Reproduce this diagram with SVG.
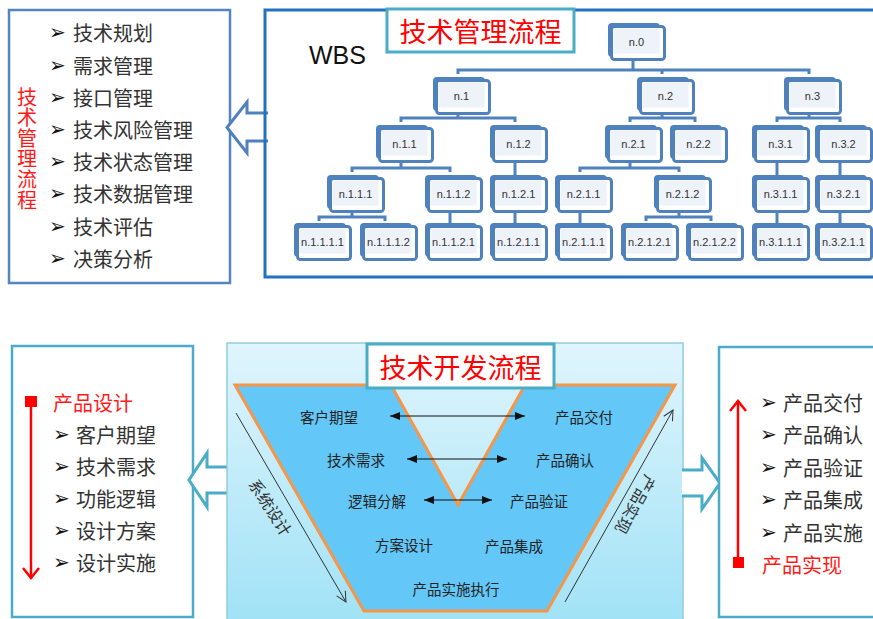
<svg xmlns="http://www.w3.org/2000/svg" width="873" height="619" viewBox="0 0 873 619">
<style>
.li{font-family:"Noto Sans CJK SC","Noto Sans",sans-serif;font-size:20px;fill:#333;dominant-baseline:central}
.bu{font-family:"DejaVu Sans",sans-serif;font-size:20px;fill:#111;dominant-baseline:central}
.red{font-family:"Noto Sans CJK SC","Noto Sans",sans-serif;font-size:20px;fill:#FF1A1A;dominant-baseline:central}
.ttl{font-family:"Noto Sans CJK SC","Noto Sans",sans-serif;font-size:27px;fill:#FF0000;text-anchor:middle;dominant-baseline:central}
.nt{font-family:"Liberation Sans",Arial,sans-serif;font-size:11px;fill:#333;text-anchor:middle;dominant-baseline:central}
.vt{font-family:"Noto Sans CJK SC","Noto Sans",sans-serif;font-size:14.5px;fill:#222;text-anchor:middle;dominant-baseline:central}
.dg{font-family:"Noto Sans CJK SC","Noto Sans",sans-serif;font-size:16px;fill:#333;text-anchor:middle;dominant-baseline:central}
.cn{fill:none;stroke:#4F81BD;stroke-width:3}
.hollowB{fill:#fff;stroke:#4F81BD;stroke-width:3;stroke-linejoin:miter}
.hollowT{fill:#fff;stroke:#4BACC6;stroke-width:3;stroke-linejoin:miter}
.tealbox{fill:#fff;stroke:#4BACC6;stroke-width:2.5}
.dbl{stroke:#111;stroke-width:1.2;marker-start:url(#tri);marker-end:url(#tri)}
.diag{stroke:#333;stroke-width:1;marker-end:url(#openA)}
</style>
<defs>
<linearGradient id="panelG" x1="0" y1="0" x2="0" y2="1">
<stop offset="0" stop-color="#E0F5FD"/>
<stop offset="1" stop-color="#A0E2F6"/>
</linearGradient>
<marker id="tri" viewBox="0 0 10 8" refX="10" refY="4" markerWidth="10" markerHeight="8" markerUnits="userSpaceOnUse" orient="auto-start-reverse">
<path d="M0,0 L10,4 L0,8 Z" fill="#111"/>
</marker>
<marker id="openA" viewBox="0 0 12 12" refX="11" refY="6" markerWidth="12" markerHeight="12" markerUnits="userSpaceOnUse" orient="auto">
<path d="M1,1 L11,6 L1,11" fill="none" stroke="#333" stroke-width="1"/>
</marker>
<symbol id="nd" overflow="visible">
<rect x="0" y="0" width="52" height="34" rx="4" fill="#4F81BD"/>
<rect x="3.5" y="3.5" width="53" height="33" rx="3" fill="#fff" stroke="#4F81BD" stroke-width="3"/>
<rect x="5.5" y="5.5" width="46" height="25" fill="#EEF2F9"/>
</symbol>
</defs>
<rect width="873" height="619" fill="#fff"/>

<!-- Top-left list box -->
<g id="mgmt-list">
<rect x="9" y="10" width="221" height="273" fill="#fff" stroke="#5585C0" stroke-width="2.5"/>
<text x="27" y="87" writing-mode="vertical-rl" font-family="Noto Sans CJK SC,Noto Sans,sans-serif" font-size="20" fill="#FF1A1A" letter-spacing="0.6">技术管理流程</text>
<text class="bu" x="49" y="32">➢</text><text class="li" x="73" y="32">技术规划</text>
<text class="bu" x="49" y="65">➢</text><text class="li" x="73" y="65">需求管理</text>
<text class="bu" x="49" y="97">➢</text><text class="li" x="73" y="97">接口管理</text>
<text class="bu" x="49" y="129">➢</text><text class="li" x="73" y="129">技术风险管理</text>
<text class="bu" x="49" y="161">➢</text><text class="li" x="73" y="161">技术状态管理</text>
<text class="bu" x="49" y="193">➢</text><text class="li" x="73" y="193">技术数据管理</text>
<text class="bu" x="49" y="226">➢</text><text class="li" x="73" y="226">技术评估</text>
<text class="bu" x="49" y="258">➢</text><text class="li" x="73" y="258">决策分析</text>
</g>

<g id="arrow-top">
<path class="hollowB" d="M268,113 H247 V102 L227,127.5 L247,153 V141 H268"/>
</g>

<!-- WBS panel -->
<g id="wbs-panel">
<rect x="265" y="10" width="620" height="267" fill="none" stroke="#2372C0" stroke-width="3"/>
<text x="309" y="55" font-family="Liberation Sans,Arial,sans-serif" font-size="25" fill="#111" dominant-baseline="central">WBS</text>
</g>
<g id="title-mgmt">
<rect x="387" y="9" width="187" height="43" fill="#fff" stroke="#4BACC6" stroke-width="3"/>
<text class="ttl" x="480.5" y="30.5">技术管理流程</text>
</g>

<g id="n0"><use href="#nd" x="608" y="23"/><text class="nt" x="636.5" y="41.5">n.0</text></g>
<g id="n1"><use href="#nd" x="433" y="77"/><text class="nt" x="461.5" y="95.5">n.1</text></g>
<g id="n2"><use href="#nd" x="637" y="77"/><text class="nt" x="665.5" y="95.5">n.2</text></g>
<g id="n3"><use href="#nd" x="784" y="77"/><text class="nt" x="812.5" y="95.5">n.3</text></g>
<g id="n11"><use href="#nd" x="376" y="125"/><text class="nt" x="404.5" y="143.5">n.1.1</text></g>
<g id="n12"><use href="#nd" x="490" y="125"/><text class="nt" x="518.5" y="143.5">n.1.2</text></g>
<g id="n21"><use href="#nd" x="605" y="125"/><text class="nt" x="633.5" y="143.5">n.2.1</text></g>
<g id="n22"><use href="#nd" x="670" y="125"/><text class="nt" x="698.5" y="143.5">n.2.2</text></g>
<g id="n31"><use href="#nd" x="752" y="125"/><text class="nt" x="780.5" y="143.5">n.3.1</text></g>
<g id="n32"><use href="#nd" x="815" y="125"/><text class="nt" x="843.5" y="143.5">n.3.2</text></g>
<g id="n111"><use href="#nd" x="327" y="175"/><text class="nt" x="355.5" y="193.5">n.1.1.1</text></g>
<g id="n112"><use href="#nd" x="425" y="175"/><text class="nt" x="453.5" y="193.5">n.1.1.2</text></g>
<g id="n121"><use href="#nd" x="490" y="175"/><text class="nt" x="518.5" y="193.5">n.1.2.1</text></g>
<g id="n211"><use href="#nd" x="555" y="175"/><text class="nt" x="583.5" y="193.5">n.2.1.1</text></g>
<g id="n212"><use href="#nd" x="654" y="175"/><text class="nt" x="682.5" y="193.5">n.2.1.2</text></g>
<g id="n311"><use href="#nd" x="752" y="175"/><text class="nt" x="780.5" y="193.5">n.3.1.1</text></g>
<g id="n321"><use href="#nd" x="815" y="175"/><text class="nt" x="843.5" y="193.5">n.3.2.1</text></g>
<g id="n1111"><use href="#nd" x="294" y="223"/><text class="nt" x="322.5" y="241.5">n.1.1.1.1</text></g>
<g id="n1112"><use href="#nd" x="360" y="223"/><text class="nt" x="388.5" y="241.5">n.1.1.1.2</text></g>
<g id="n1121"><use href="#nd" x="425" y="223"/><text class="nt" x="453.5" y="241.5">n.1.1.2.1</text></g>
<g id="n1211"><use href="#nd" x="490" y="223"/><text class="nt" x="518.5" y="241.5">n.1.2.1.1</text></g>
<g id="n2111"><use href="#nd" x="555" y="223"/><text class="nt" x="583.5" y="241.5">n.2.1.1.1</text></g>
<g id="n2121"><use href="#nd" x="621" y="223"/><text class="nt" x="649.5" y="241.5">n.2.1.2.1</text></g>
<g id="n2122"><use href="#nd" x="686" y="223"/><text class="nt" x="714.5" y="241.5">n.2.1.2.2</text></g>
<g id="n3111"><use href="#nd" x="752" y="223"/><text class="nt" x="780.5" y="241.5">n.3.1.1.1</text></g>
<g id="n3211"><use href="#nd" x="815" y="223"/><text class="nt" x="843.5" y="241.5">n.3.2.1.1</text></g>

<!-- Bottom-left box -->
<g id="design-list">
<rect class="tealbox" x="12" y="346" width="181" height="271"/>
<rect x="25" y="396" width="12" height="11" fill="#FF0000"/>
<line x1="31" y1="407" x2="31" y2="578" stroke="#FF0000" stroke-width="2.5"/>
<polyline points="23,568 31,578 39,568" fill="none" stroke="#FF0000" stroke-width="2.5"/>
<text class="red" x="53" y="402">产品设计</text>
<text class="bu" x="53" y="434">➢</text><text class="li" x="76" y="434">客户期望</text>
<text class="bu" x="53" y="466">➢</text><text class="li" x="76" y="466">技术需求</text>
<text class="bu" x="53" y="498">➢</text><text class="li" x="76" y="498">功能逻辑</text>
<text class="bu" x="53" y="530">➢</text><text class="li" x="76" y="530">设计方案</text>
<text class="bu" x="53" y="562">➢</text><text class="li" x="76" y="562">设计实施</text>
</g>

<g id="arrow-left">
<path class="hollowT" d="M229,467 H207 V453 L189,480 L207,507 V493 H229"/>
</g>

<!-- Middle panel -->
<g id="dev-panel">
<rect x="227" y="343" width="456" height="282" fill="url(#panelG)" stroke="#93CDDD" stroke-width="1.5"/>
<polygon points="235,385 391,385 458,505 525,385 675,385 547,611 364,611" fill="#63C7F8" stroke="#F79646" stroke-width="3" stroke-linejoin="miter"/>
</g>

<g id="arrow-right">
<path class="hollowT" d="M682,470 H702 V458 L720,483 L702,509 V496 H682"/>
</g>

<g id="title-dev">
<rect x="367" y="344" width="187" height="44" fill="#fff" stroke="#4BACC6" stroke-width="3"/>
<text class="ttl" x="460.5" y="366">技术开发流程</text>
</g>

<g id="connectors">
<path class="cn" d="M633,61 V70 M458,74 V70 H809 V74 M662,70 V74"/>
<path class="cn" d="M458,115 V118 M401,122 V118 H515 V122"/>
<path class="cn" d="M662,115 V118 M630,122 V118 H695 V122"/>
<path class="cn" d="M809,115 V118 M777,122 V118 H840 V122"/>
<path class="cn" d="M401,163 V168 M352,172 V168 H450 V172"/>
<path class="cn" d="M515,163 V175"/>
<path class="cn" d="M630,163 V168 M580,172 V168 H679 V172"/>
<path class="cn" d="M777,163 V175 M840,163 V175"/>
<path class="cn" d="M352,213 V217 M319,221 V217 H385 V221"/>
<path class="cn" d="M450,213 V223 M515,213 V223 M580,213 V223"/>
<path class="cn" d="M679,213 V217 M646,221 V217 H711 V221"/>
<path class="cn" d="M777,213 V223 M840,213 V223"/>
<line class="dbl" x1="390" y1="416" x2="525" y2="416"/>
<line class="dbl" x1="407" y1="459" x2="507" y2="459"/>
<line class="dbl" x1="424" y1="500" x2="492" y2="500"/>
</g>

<g id="v-labels">
<text class="vt" x="329" y="416">客户期望</text>
<text class="vt" x="356" y="459">技术需求</text>
<text class="vt" x="377" y="500">逻辑分解</text>
<text class="vt" x="404" y="544">方案设计</text>
<text class="vt" x="456" y="588">产品实施执行</text>
<text class="vt" x="584" y="416">产品交付</text>
<text class="vt" x="565" y="459">产品确认</text>
<text class="vt" x="539" y="500">产品验证</text>
<text class="vt" x="514" y="545">产品集成</text>
</g>

<g id="diag-left">
<line class="diag" x1="236" y1="413" x2="346" y2="602"/>
<text class="dg" transform="translate(271,507) rotate(57)">系统设计</text>
</g>
<g id="diag-right">
<line class="diag" x1="565" y1="602" x2="673" y2="410"/>
<text class="dg" transform="translate(636,505) rotate(119)">产品实现</text>
</g>

<!-- Bottom-right box -->
<g id="product-list">
<rect class="tealbox" x="719" y="347" width="170" height="270"/>
<line x1="738" y1="401" x2="738" y2="558" stroke="#FF0000" stroke-width="2.5"/>
<polyline points="730,411 738,401 746,411" fill="none" stroke="#FF0000" stroke-width="2.5"/>
<rect x="733" y="557" width="11" height="11" fill="#FF0000"/>
<text class="bu" x="760" y="402">➢</text><text class="li" x="783" y="402">产品交付</text>
<text class="bu" x="760" y="434">➢</text><text class="li" x="783" y="434">产品确认</text>
<text class="bu" x="760" y="467">➢</text><text class="li" x="783" y="467">产品验证</text>
<text class="bu" x="760" y="499">➢</text><text class="li" x="783" y="499">产品集成</text>
<text class="bu" x="760" y="532">➢</text><text class="li" x="783" y="532">产品实施</text>
<text class="red" x="762" y="564">产品实现</text>
</g>
</svg>
